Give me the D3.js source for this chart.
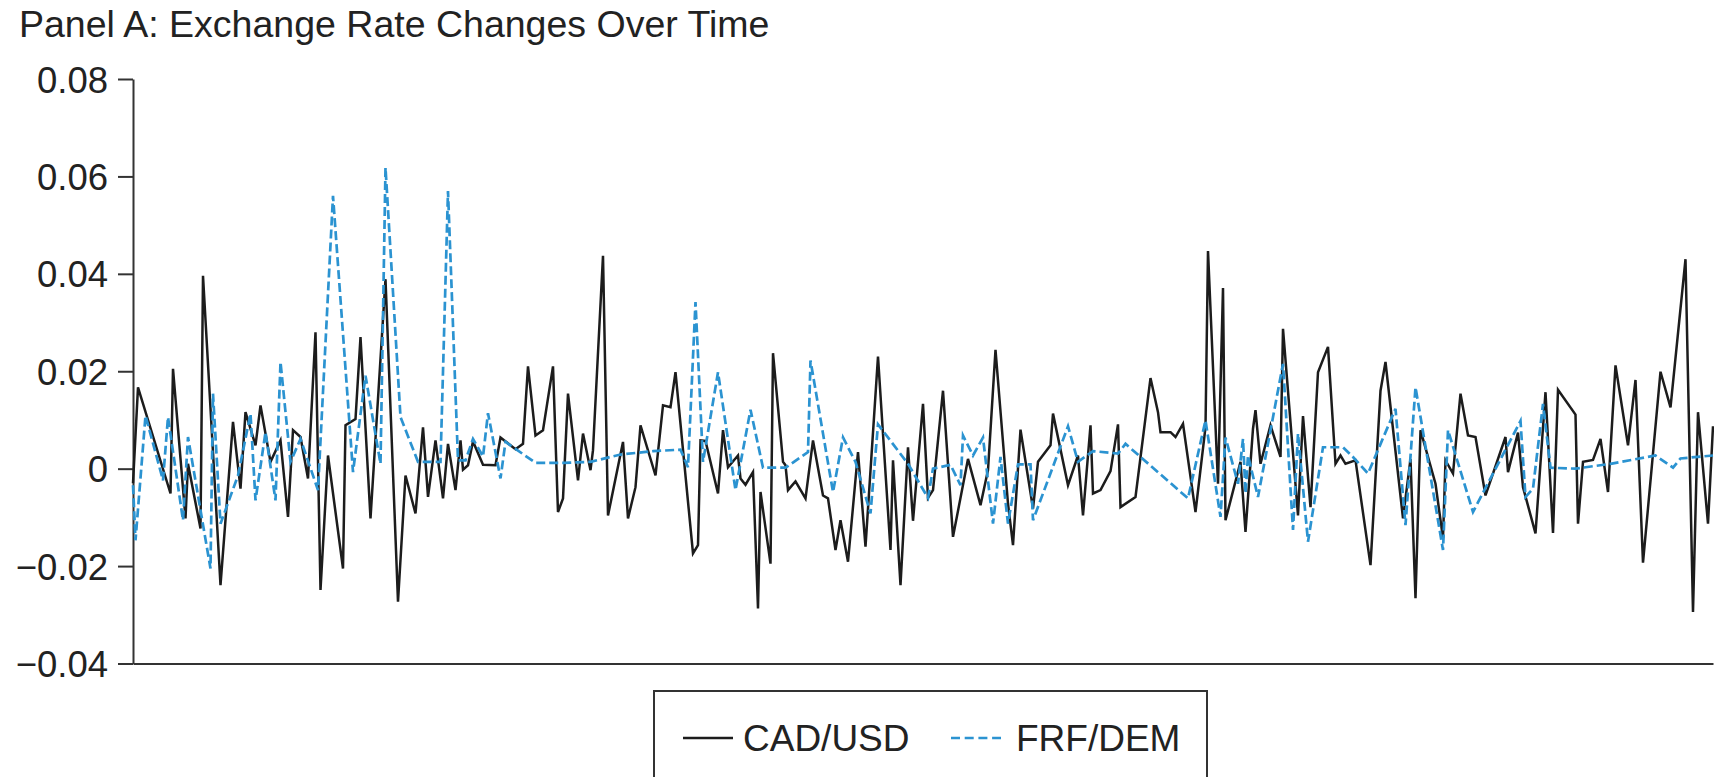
<!DOCTYPE html>
<html>
<head>
<meta charset="utf-8">
<script src="https://cdn.jsdelivr.net/npm/d3@7"></script>
<style>
  body { margin: 0; background: #fff; }
  text { font-family: "Liberation Sans", Arial, sans-serif; fill: #222; }
</style>
</head>
<body>
<svg id="chart" width="1714" height="777"></svg>
<script>
// week index of each observation and the weekly change
const cadWeek = [0,2,15,16,21,22,27,28,35,40,43,45,49,51,55,59,62,64,67,70,73,75,78,84,85,89,91,95,101,106,109,113,116,118,121,124,126,129,131,132,134,136,140,145,147,153,156,158,161,164,168,170,172,174,178,180,183,184,188,190,196,198,201,203,209,212,215,217,224,226,227,229,234,236,238,242,243,245,248,250,251,255,256,260,261,262,265,269,272,276,278,281,283,286,290,293,298,303,304,307,310,312,316,318,320,324,328,334,339,342,345,350,352,355,360,362,367,368,374,378,380,383,384,387,391,394,395,401,407,410,411,415,417,420,425,429,430,434,436,437,443,445,448,449,451,455,459,460,466,468,471,474,478,481,483,485,489,495,499,501,508,511,513,515,521,524,525,528,531,534,537,541,549,550,554,556,561,565,568,570,577,578,580,584,587,590,593,598,601,604,611,615,621,624,626,630,632];
const cadUsd = [-0.003,0.0167,-0.0051,0.0205,-0.0102,0.001,-0.0123,0.0396,-0.0239,0.0096,-0.0041,0.0116,0.0048,0.013,0.0014,0.0058,-0.0099,0.0079,0.0065,-0.002,0.028,-0.0249,0.0027,-0.0205,0.0089,0.0102,0.027,-0.0102,0.0389,-0.0273,-0.0014,-0.0092,0.0085,-0.0058,0.0058,-0.0061,0.0051,-0.0044,0.0058,-0.0002,0.0007,0.0056,0.0008,0.0007,0.0064,0.004,0.0051,0.021,0.0068,0.0079,0.021,-0.0089,-0.0061,0.0154,-0.0024,0.0072,-0.0003,0.0038,0.0437,-0.0096,0.0055,-0.0102,-0.0038,0.0089,-0.0014,0.013,0.0126,0.0198,-0.0174,-0.0157,0.0058,0.0057,-0.0051,0.0079,0.0003,0.0027,-0.002,-0.0033,-0.0007,-0.0287,-0.0048,-0.0195,0.0237,0.0014,0.0007,-0.0044,-0.0026,-0.0061,0.0058,-0.0055,-0.0061,-0.0167,-0.0106,-0.0191,0.0034,-0.016,0.023,-0.0167,0.0017,-0.0239,0.0044,-0.0107,0.0133,-0.006,-0.0044,0.016,-0.014,0.002,-0.0075,-0.0003,0.0244,-0.0072,-0.0157,0.008,-0.0082,0.0014,0.0048,0.0113,-0.0034,0.0027,-0.0096,0.0089,-0.0051,-0.0044,-0.0005,0.0091,-0.0079,-0.0058,0.0186,0.0116,0.0075,0.0075,0.0065,0.0092,-0.0089,0.0085,0.0447,-0.0031,0.0371,-0.0106,0.0014,-0.013,0.0082,0.012,0.001,0.0089,0.0024,0.0287,-0.0096,0.0108,-0.0079,0.0198,0.025,0.001,0.0027,0.001,0.0017,-0.0198,0.016,0.0219,-0.0102,0.002,-0.0266,0.0079,-0.0031,-0.0143,0.0017,-0.001,0.0154,0.0068,0.0065,-0.0055,0.0065,-0.0007,0.0074,-0.0038,-0.0133,0.0157,-0.0132,0.0162,0.0111,-0.0113,0.0014,0.0018,0.0061,-0.0048,0.0212,0.0048,0.0182,-0.0193,0.0199,0.0126,0.043,-0.0294,0.0116,-0.0113,0.0087];

const frfWeek = [0,1,5,12,14,20,22,31,32,35,42,47,49,53,57,59,63,67,74,80,88,93,99,101,107,114,123,126,130,133,136,140,142,147,149,161,172,183,195,208,219,222,225,228,234,241,247,252,261,270,271,280,284,289,295,298,310,318,320,327,331,332,336,340,344,347,350,354,359,360,374,378,384,394,397,422,429,435,437,442,444,445,446,450,460,464,466,470,476,484,488,494,505,509,513,524,526,536,555,557,560,564,567,577,591,609,616,619,632];
const frfDem = [-0.0034,-0.0147,0.0109,-0.0024,0.0106,-0.0106,0.0065,-0.0205,0.0154,-0.0113,-0.0014,0.0113,-0.0065,0.0075,-0.0065,0.0219,0.0014,0.0061,-0.0044,0.056,-0.0007,0.0191,0.001,0.0618,0.0106,0.0014,0.0014,0.057,0.0017,0.0017,0.0061,0.0025,0.0114,-0.002,0.0055,0.0012,0.0012,0.0014,0.0029,0.0036,0.0039,0.0003,0.0342,0.0014,0.0198,-0.0044,0.0121,0.0002,0.0002,0.0034,0.0222,-0.0048,0.0064,0.0014,-0.0092,0.0091,0.001,-0.006,0,0.0008,-0.0034,0.0068,0.0027,0.0064,-0.0113,0.0024,-0.0113,0.0009,0.0009,-0.0106,0.0087,0.0014,0.0036,0.0031,0.0051,-0.0061,0.0099,-0.0099,0.0064,-0.0031,0.0061,-0.0051,0.0027,-0.0058,0.0215,-0.0126,0.0072,-0.015,0.0044,0.0044,0.0024,-0.001,0.0123,-0.0116,0.0167,-0.0167,0.0079,-0.0089,0.0098,-0.0058,-0.0041,0.0133,0.0002,0,0.001,0.0027,0.0002,0.0021,0.0027];

const yTicks = [0.08, 0.06, 0.04, 0.02, 0, -0.02, -0.04];
const seriesNames = ["CAD/USD", "FRF/DEM"];
const titleText = "Panel A: Exchange Rate Changes Over Time";

const blue = "#2b93d1";
const ink = "#1c1c1c";

const svg = d3.select("#chart");

const x = d3.scaleLinear().domain([0, 632]).range([133, 1713]);
const y = d3.scaleLinear().domain([-0.04, 0.08]).range([663.5, 79]);

// title
svg.append("text")
    .attr("x", 19)
    .attr("y", 37)
    .style("font-size", "37.5px")
    .text(titleText);

// y axis
let yAxis = svg.append("g")
    .attr("transform", "translate(133,0)")
    .call(d3.axisLeft(y)
        .tickValues(yTicks)
        .tickSize(15)
        .tickSizeOuter(0)
        .tickPadding(10)
        .tickFormat(d => d === 0 ? "0" : d3.format(".2f")(d)));

yAxis.select(".domain").attr("stroke", "#333").attr("stroke-width", 2);
yAxis.selectAll(".tick line").attr("stroke", "#333").attr("stroke-width", 2);
yAxis.selectAll(".tick text")
    .attr("dy", "0.36em")
    .style("font-size", "36.5px")
    .style("font-family", "Liberation Sans, Arial, sans-serif")
    .attr("fill", "#222");

// x axis, a bare line
let xAxis = svg.append("g")
    .attr("transform", "translate(0,663.5)")
    .call(d3.axisBottom(x).tickValues([]).tickSizeOuter(0));
xAxis.select(".domain").attr("stroke", "#333").attr("stroke-width", 2);

// series
let cad = cadWeek.map((t, i) => ({t: t, v: cadUsd[i]}));
let frf = frfWeek.map((t, i) => ({t: t, v: frfDem[i]}));

let line = d3.line().x(d => x(d.t)).y(d => y(d.v));

svg.append("path")
    .datum(cad)
    .attr("d", line)
    .attr("fill", "none")
    .attr("stroke", ink)
    .attr("stroke-width", 2.5)
    .attr("stroke-linejoin", "miter");

svg.append("path")
    .datum(frf)
    .attr("d", line)
    .attr("fill", "none")
    .attr("stroke", blue)
    .attr("stroke-width", 2.7)
    .attr("stroke-dasharray", "9,4");

// legend
let lg = svg.append("g");
lg.append("rect")
    .attr("x", 654).attr("y", 691)
    .attr("width", 553).attr("height", 120)
    .attr("fill", "none")
    .attr("stroke", "#333")
    .attr("stroke-width", 2);

let items = [
    {name: seriesNames[0], x0: 683, tx: 743, color: ink, dash: null},
    {name: seriesNames[1], x0: 951, tx: 1016, color: blue, dash: "9,4.7"}
];
items.forEach(function(d){
    lg.append("line")
        .attr("x1", d.x0).attr("x2", d.x0 + 50)
        .attr("y1", 738).attr("y2", 738)
        .attr("stroke", d.color)
        .attr("stroke-width", 2.4)
        .attr("stroke-dasharray", d.dash);
    lg.append("text")
        .attr("x", d.tx)
        .attr("y", 751)
        .style("font-size", "37px")
        .text(d.name);
});
</script>
</body>
</html>
